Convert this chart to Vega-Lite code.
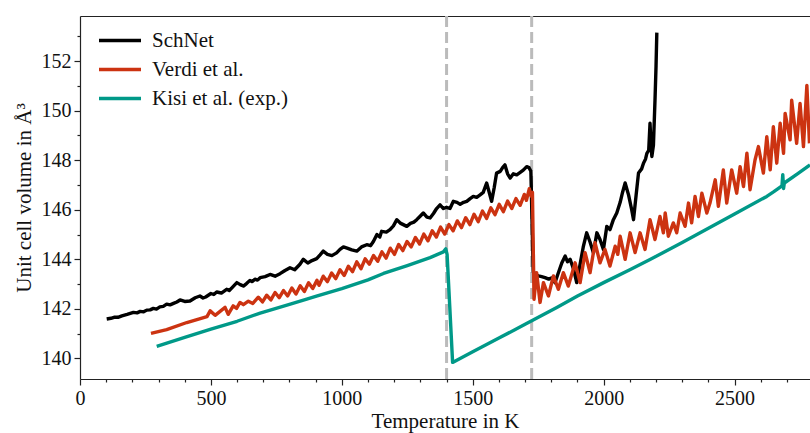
{
  "$schema": "https://vega.github.io/schema/vega-lite/v6.json",
  "width": 730,
  "height": 363,
  "autosize": {"type": "none"},
  "padding": {"left": 80, "top": 16, "right": 0, "bottom": 54},
  "background": "white",
  "config": {
    "view": {"stroke": null},
    "font": "Liberation Serif",
    "axis": {
      "grid": false,
      "domainColor": "#222222",
      "domainWidth": 1.2,
      "tickColor": "#222222",
      "tickWidth": 1.2,
      "labelColor": "#111111",
      "titleColor": "#111111",
      "labelFont": "Liberation Serif",
      "titleFont": "Liberation Serif",
      "labelFontSize": 20,
      "titleFontSize": 21,
      "titleFontWeight": "normal",
      "labelOverlap": false,
      "labelFlush": false
    }
  },
  "datasets": {
    "transitions": [{"T": 1400}, {"T": 1725}],
    "volumes": [
      {"series": "SchNet", "T": 102, "V": 141.59},
      {"series": "SchNet", "T": 118, "V": 141.62},
      {"series": "SchNet", "T": 130, "V": 141.66},
      {"series": "SchNet", "T": 145, "V": 141.66},
      {"series": "SchNet", "T": 160, "V": 141.72},
      {"series": "SchNet", "T": 180, "V": 141.78},
      {"series": "SchNet", "T": 204, "V": 141.86},
      {"series": "SchNet", "T": 218, "V": 141.84},
      {"series": "SchNet", "T": 230, "V": 141.9},
      {"series": "SchNet", "T": 243, "V": 141.88},
      {"series": "SchNet", "T": 255, "V": 141.95},
      {"series": "SchNet", "T": 268, "V": 141.96},
      {"series": "SchNet", "T": 280, "V": 142.02},
      {"series": "SchNet", "T": 292, "V": 141.99},
      {"series": "SchNet", "T": 305, "V": 142.08},
      {"series": "SchNet", "T": 318, "V": 142.1},
      {"series": "SchNet", "T": 331, "V": 142.19},
      {"series": "SchNet", "T": 344, "V": 142.16},
      {"series": "SchNet", "T": 357, "V": 142.22},
      {"series": "SchNet", "T": 370, "V": 142.28},
      {"series": "SchNet", "T": 382, "V": 142.36},
      {"series": "SchNet", "T": 400, "V": 142.3},
      {"series": "SchNet", "T": 420, "V": 142.32},
      {"series": "SchNet", "T": 440, "V": 142.45},
      {"series": "SchNet", "T": 458, "V": 142.52},
      {"series": "SchNet", "T": 470, "V": 142.44},
      {"series": "SchNet", "T": 480, "V": 142.48},
      {"series": "SchNet", "T": 500, "V": 142.62},
      {"series": "SchNet", "T": 511, "V": 142.58},
      {"series": "SchNet", "T": 522, "V": 142.68},
      {"series": "SchNet", "T": 540, "V": 142.64},
      {"series": "SchNet", "T": 560, "V": 142.79},
      {"series": "SchNet", "T": 570, "V": 142.74},
      {"series": "SchNet", "T": 580, "V": 142.85},
      {"series": "SchNet", "T": 599, "V": 143.06},
      {"series": "SchNet", "T": 612, "V": 142.98},
      {"series": "SchNet", "T": 624, "V": 142.92},
      {"series": "SchNet", "T": 636, "V": 143.02},
      {"series": "SchNet", "T": 649, "V": 143.15},
      {"series": "SchNet", "T": 658, "V": 143.1},
      {"series": "SchNet", "T": 668, "V": 143.2},
      {"series": "SchNet", "T": 678, "V": 143.16},
      {"series": "SchNet", "T": 688, "V": 143.26},
      {"series": "SchNet", "T": 707, "V": 143.3},
      {"series": "SchNet", "T": 726, "V": 143.39},
      {"series": "SchNet", "T": 745, "V": 143.32},
      {"series": "SchNet", "T": 764, "V": 143.42},
      {"series": "SchNet", "T": 783, "V": 143.55},
      {"series": "SchNet", "T": 802, "V": 143.66},
      {"series": "SchNet", "T": 820, "V": 143.58},
      {"series": "SchNet", "T": 840, "V": 143.8},
      {"series": "SchNet", "T": 853, "V": 144.0},
      {"series": "SchNet", "T": 870, "V": 143.85},
      {"series": "SchNet", "T": 886, "V": 143.95},
      {"series": "SchNet", "T": 904, "V": 144.03},
      {"series": "SchNet", "T": 917, "V": 144.18},
      {"series": "SchNet", "T": 929, "V": 144.33},
      {"series": "SchNet", "T": 945, "V": 144.2},
      {"series": "SchNet", "T": 962, "V": 144.15},
      {"series": "SchNet", "T": 980, "V": 144.26},
      {"series": "SchNet", "T": 993, "V": 144.4},
      {"series": "SchNet", "T": 1006, "V": 144.5},
      {"series": "SchNet", "T": 1020, "V": 144.45},
      {"series": "SchNet", "T": 1038, "V": 144.38},
      {"series": "SchNet", "T": 1057, "V": 144.33},
      {"series": "SchNet", "T": 1075, "V": 144.5},
      {"series": "SchNet", "T": 1095, "V": 144.59},
      {"series": "SchNet", "T": 1110, "V": 144.55},
      {"series": "SchNet", "T": 1121, "V": 144.73},
      {"series": "SchNet", "T": 1134, "V": 145.0},
      {"series": "SchNet", "T": 1145, "V": 144.9},
      {"series": "SchNet", "T": 1152, "V": 145.13},
      {"series": "SchNet", "T": 1170, "V": 145.1},
      {"series": "SchNet", "T": 1184, "V": 145.2},
      {"series": "SchNet", "T": 1197, "V": 145.35},
      {"series": "SchNet", "T": 1210, "V": 145.6},
      {"series": "SchNet", "T": 1225, "V": 145.45},
      {"series": "SchNet", "T": 1248, "V": 145.33},
      {"series": "SchNet", "T": 1262, "V": 145.45},
      {"series": "SchNet", "T": 1275, "V": 145.5},
      {"series": "SchNet", "T": 1286, "V": 145.6},
      {"series": "SchNet", "T": 1300, "V": 145.75},
      {"series": "SchNet", "T": 1311, "V": 145.87},
      {"series": "SchNet", "T": 1325, "V": 145.7},
      {"series": "SchNet", "T": 1337, "V": 145.67},
      {"series": "SchNet", "T": 1350, "V": 145.85},
      {"series": "SchNet", "T": 1362, "V": 146.05},
      {"series": "SchNet", "T": 1375, "V": 146.2},
      {"series": "SchNet", "T": 1388, "V": 146.05},
      {"series": "SchNet", "T": 1400, "V": 146.1},
      {"series": "SchNet", "T": 1413, "V": 146.05},
      {"series": "SchNet", "T": 1426, "V": 146.34},
      {"series": "SchNet", "T": 1440, "V": 146.3},
      {"series": "SchNet", "T": 1452, "V": 146.22},
      {"series": "SchNet", "T": 1465, "V": 146.3},
      {"series": "SchNet", "T": 1477, "V": 146.34},
      {"series": "SchNet", "T": 1490, "V": 146.45},
      {"series": "SchNet", "T": 1502, "V": 146.54},
      {"series": "SchNet", "T": 1515, "V": 146.5},
      {"series": "SchNet", "T": 1528, "V": 146.6},
      {"series": "SchNet", "T": 1540, "V": 146.7},
      {"series": "SchNet", "T": 1553, "V": 147.08},
      {"series": "SchNet", "T": 1563, "V": 146.7},
      {"series": "SchNet", "T": 1572, "V": 146.34},
      {"series": "SchNet", "T": 1582, "V": 146.9},
      {"series": "SchNet", "T": 1591, "V": 147.48},
      {"series": "SchNet", "T": 1605, "V": 147.55},
      {"series": "SchNet", "T": 1614, "V": 147.7},
      {"series": "SchNet", "T": 1623, "V": 147.81},
      {"series": "SchNet", "T": 1633, "V": 147.45},
      {"series": "SchNet", "T": 1643, "V": 147.28},
      {"series": "SchNet", "T": 1655, "V": 147.45},
      {"series": "SchNet", "T": 1668, "V": 147.41},
      {"series": "SchNet", "T": 1680, "V": 147.5},
      {"series": "SchNet", "T": 1693, "V": 147.6},
      {"series": "SchNet", "T": 1706, "V": 147.74},
      {"series": "SchNet", "T": 1715, "V": 147.7},
      {"series": "SchNet", "T": 1722, "V": 147.55},
      {"series": "SchNet", "T": 1731, "V": 143.5},
      {"series": "SchNet", "T": 1740, "V": 143.4},
      {"series": "SchNet", "T": 1751, "V": 143.33},
      {"series": "SchNet", "T": 1763, "V": 143.3},
      {"series": "SchNet", "T": 1776, "V": 143.26},
      {"series": "SchNet", "T": 1790, "V": 143.2},
      {"series": "SchNet", "T": 1802, "V": 143.25},
      {"series": "SchNet", "T": 1814, "V": 143.06},
      {"series": "SchNet", "T": 1827, "V": 143.46},
      {"series": "SchNet", "T": 1840, "V": 143.85},
      {"series": "SchNet", "T": 1853, "V": 144.13},
      {"series": "SchNet", "T": 1862, "V": 143.9},
      {"series": "SchNet", "T": 1872, "V": 144.0},
      {"series": "SchNet", "T": 1885, "V": 143.6},
      {"series": "SchNet", "T": 1897, "V": 143.06},
      {"series": "SchNet", "T": 1910, "V": 143.8},
      {"series": "SchNet", "T": 1922, "V": 144.5},
      {"series": "SchNet", "T": 1935, "V": 145.07},
      {"series": "SchNet", "T": 1948, "V": 144.7},
      {"series": "SchNet", "T": 1961, "V": 144.26},
      {"series": "SchNet", "T": 1974, "V": 145.07},
      {"series": "SchNet", "T": 1986, "V": 144.8},
      {"series": "SchNet", "T": 1999, "V": 144.4},
      {"series": "SchNet", "T": 2012, "V": 145.33},
      {"series": "SchNet", "T": 2024, "V": 145.2},
      {"series": "SchNet", "T": 2037, "V": 145.6},
      {"series": "SchNet", "T": 2050, "V": 145.87},
      {"series": "SchNet", "T": 2063, "V": 146.3},
      {"series": "SchNet", "T": 2072, "V": 146.7},
      {"series": "SchNet", "T": 2082, "V": 147.08},
      {"series": "SchNet", "T": 2095, "V": 146.6},
      {"series": "SchNet", "T": 2107, "V": 146.0},
      {"series": "SchNet", "T": 2114, "V": 145.6},
      {"series": "SchNet", "T": 2124, "V": 146.6},
      {"series": "SchNet", "T": 2133, "V": 147.48},
      {"series": "SchNet", "T": 2145, "V": 147.65},
      {"series": "SchNet", "T": 2152, "V": 147.88},
      {"series": "SchNet", "T": 2160, "V": 148.05},
      {"series": "SchNet", "T": 2165, "V": 148.28},
      {"series": "SchNet", "T": 2172, "V": 148.4},
      {"series": "SchNet", "T": 2177, "V": 149.49},
      {"series": "SchNet", "T": 2181, "V": 148.6},
      {"series": "SchNet", "T": 2184, "V": 148.15},
      {"series": "SchNet", "T": 2190, "V": 148.6},
      {"series": "SchNet", "T": 2196, "V": 150.42},
      {"series": "SchNet", "T": 2200, "V": 151.8},
      {"series": "SchNet", "T": 2203, "V": 153.15},

      {"series": "Verdi et al.", "T": 271, "V": 141.01},
      {"series": "Verdi et al.", "T": 331, "V": 141.16},
      {"series": "Verdi et al.", "T": 408, "V": 141.45},
      {"series": "Verdi et al.", "T": 485, "V": 141.69},
      {"series": "Verdi et al.", "T": 497, "V": 141.92},
      {"series": "Verdi et al.", "T": 516, "V": 141.74},
      {"series": "Verdi et al.", "T": 535, "V": 141.9},
      {"series": "Verdi et al.", "T": 554, "V": 142.06},
      {"series": "Verdi et al.", "T": 566, "V": 141.78},
      {"series": "Verdi et al.", "T": 585, "V": 142.12},
      {"series": "Verdi et al.", "T": 598, "V": 142.02},
      {"series": "Verdi et al.", "T": 611, "V": 142.26},
      {"series": "Verdi et al.", "T": 624, "V": 142.17},
      {"series": "Verdi et al.", "T": 643, "V": 142.31},
      {"series": "Verdi et al.", "T": 660, "V": 142.22},
      {"series": "Verdi et al.", "T": 681, "V": 142.47},
      {"series": "Verdi et al.", "T": 697, "V": 142.28},
      {"series": "Verdi et al.", "T": 713, "V": 142.55},
      {"series": "Verdi et al.", "T": 729, "V": 142.36},
      {"series": "Verdi et al.", "T": 745, "V": 142.66},
      {"series": "Verdi et al.", "T": 761, "V": 142.45},
      {"series": "Verdi et al.", "T": 777, "V": 142.74},
      {"series": "Verdi et al.", "T": 793, "V": 142.52},
      {"series": "Verdi et al.", "T": 809, "V": 142.84},
      {"series": "Verdi et al.", "T": 825, "V": 142.6},
      {"series": "Verdi et al.", "T": 841, "V": 142.93},
      {"series": "Verdi et al.", "T": 857, "V": 142.7},
      {"series": "Verdi et al.", "T": 873, "V": 143.05},
      {"series": "Verdi et al.", "T": 889, "V": 142.82},
      {"series": "Verdi et al.", "T": 905, "V": 143.15},
      {"series": "Verdi et al.", "T": 913, "V": 142.95},
      {"series": "Verdi et al.", "T": 929, "V": 143.32},
      {"series": "Verdi et al.", "T": 945, "V": 143.1},
      {"series": "Verdi et al.", "T": 961, "V": 143.45},
      {"series": "Verdi et al.", "T": 977, "V": 143.22},
      {"series": "Verdi et al.", "T": 993, "V": 143.58},
      {"series": "Verdi et al.", "T": 1009, "V": 143.35},
      {"series": "Verdi et al.", "T": 1025, "V": 143.72},
      {"series": "Verdi et al.", "T": 1041, "V": 143.5},
      {"series": "Verdi et al.", "T": 1057, "V": 143.9},
      {"series": "Verdi et al.", "T": 1073, "V": 143.62},
      {"series": "Verdi et al.", "T": 1089, "V": 144.02},
      {"series": "Verdi et al.", "T": 1105, "V": 143.8},
      {"series": "Verdi et al.", "T": 1121, "V": 144.15},
      {"series": "Verdi et al.", "T": 1137, "V": 143.92},
      {"series": "Verdi et al.", "T": 1153, "V": 144.3},
      {"series": "Verdi et al.", "T": 1169, "V": 144.05},
      {"series": "Verdi et al.", "T": 1185, "V": 144.45},
      {"series": "Verdi et al.", "T": 1201, "V": 144.2},
      {"series": "Verdi et al.", "T": 1217, "V": 144.6},
      {"series": "Verdi et al.", "T": 1233, "V": 144.35},
      {"series": "Verdi et al.", "T": 1249, "V": 144.72},
      {"series": "Verdi et al.", "T": 1265, "V": 144.5},
      {"series": "Verdi et al.", "T": 1281, "V": 144.88},
      {"series": "Verdi et al.", "T": 1297, "V": 144.62},
      {"series": "Verdi et al.", "T": 1313, "V": 145.02},
      {"series": "Verdi et al.", "T": 1329, "V": 144.75},
      {"series": "Verdi et al.", "T": 1345, "V": 145.15},
      {"series": "Verdi et al.", "T": 1361, "V": 144.9},
      {"series": "Verdi et al.", "T": 1377, "V": 145.3},
      {"series": "Verdi et al.", "T": 1393, "V": 145.02},
      {"series": "Verdi et al.", "T": 1409, "V": 145.4},
      {"series": "Verdi et al.", "T": 1425, "V": 145.15},
      {"series": "Verdi et al.", "T": 1441, "V": 145.55},
      {"series": "Verdi et al.", "T": 1457, "V": 145.28},
      {"series": "Verdi et al.", "T": 1473, "V": 145.68},
      {"series": "Verdi et al.", "T": 1489, "V": 145.4},
      {"series": "Verdi et al.", "T": 1505, "V": 145.82},
      {"series": "Verdi et al.", "T": 1521, "V": 145.52},
      {"series": "Verdi et al.", "T": 1537, "V": 145.95},
      {"series": "Verdi et al.", "T": 1553, "V": 145.65},
      {"series": "Verdi et al.", "T": 1569, "V": 146.08},
      {"series": "Verdi et al.", "T": 1585, "V": 145.8},
      {"series": "Verdi et al.", "T": 1601, "V": 146.22},
      {"series": "Verdi et al.", "T": 1617, "V": 145.92},
      {"series": "Verdi et al.", "T": 1633, "V": 146.35},
      {"series": "Verdi et al.", "T": 1649, "V": 146.05},
      {"series": "Verdi et al.", "T": 1665, "V": 146.45},
      {"series": "Verdi et al.", "T": 1681, "V": 146.18},
      {"series": "Verdi et al.", "T": 1697, "V": 146.62},
      {"series": "Verdi et al.", "T": 1705, "V": 146.38},
      {"series": "Verdi et al.", "T": 1716, "V": 146.85},
      {"series": "Verdi et al.", "T": 1723, "V": 146.55},
      {"series": "Verdi et al.", "T": 1728, "V": 146.7},
      {"series": "Verdi et al.", "T": 1734, "V": 142.39},
      {"series": "Verdi et al.", "T": 1744, "V": 143.46},
      {"series": "Verdi et al.", "T": 1757, "V": 142.26},
      {"series": "Verdi et al.", "T": 1770, "V": 143.06},
      {"series": "Verdi et al.", "T": 1789, "V": 142.52},
      {"series": "Verdi et al.", "T": 1808, "V": 143.33},
      {"series": "Verdi et al.", "T": 1827, "V": 142.79},
      {"series": "Verdi et al.", "T": 1846, "V": 143.46},
      {"series": "Verdi et al.", "T": 1865, "V": 142.92},
      {"series": "Verdi et al.", "T": 1891, "V": 143.86},
      {"series": "Verdi et al.", "T": 1910, "V": 143.06},
      {"series": "Verdi et al.", "T": 1929, "V": 144.27},
      {"series": "Verdi et al.", "T": 1948, "V": 143.46},
      {"series": "Verdi et al.", "T": 1967, "V": 144.67},
      {"series": "Verdi et al.", "T": 1986, "V": 143.86},
      {"series": "Verdi et al.", "T": 2005, "V": 144.4},
      {"series": "Verdi et al.", "T": 2024, "V": 143.73},
      {"series": "Verdi et al.", "T": 2044, "V": 144.53},
      {"series": "Verdi et al.", "T": 2054, "V": 144.2},
      {"series": "Verdi et al.", "T": 2063, "V": 144.93},
      {"series": "Verdi et al.", "T": 2082, "V": 144.0},
      {"series": "Verdi et al.", "T": 2101, "V": 145.07},
      {"series": "Verdi et al.", "T": 2120, "V": 144.27},
      {"series": "Verdi et al.", "T": 2139, "V": 145.07},
      {"series": "Verdi et al.", "T": 2158, "V": 144.4},
      {"series": "Verdi et al.", "T": 2177, "V": 145.6},
      {"series": "Verdi et al.", "T": 2196, "V": 144.8},
      {"series": "Verdi et al.", "T": 2215, "V": 145.73},
      {"series": "Verdi et al.", "T": 2228, "V": 145.07},
      {"series": "Verdi et al.", "T": 2235, "V": 145.87},
      {"series": "Verdi et al.", "T": 2247, "V": 144.93},
      {"series": "Verdi et al.", "T": 2266, "V": 145.47},
      {"series": "Verdi et al.", "T": 2279, "V": 145.07},
      {"series": "Verdi et al.", "T": 2292, "V": 145.87},
      {"series": "Verdi et al.", "T": 2311, "V": 145.33},
      {"series": "Verdi et al.", "T": 2324, "V": 146.27},
      {"series": "Verdi et al.", "T": 2336, "V": 145.47},
      {"series": "Verdi et al.", "T": 2349, "V": 146.54},
      {"series": "Verdi et al.", "T": 2362, "V": 145.73},
      {"series": "Verdi et al.", "T": 2375, "V": 146.67},
      {"series": "Verdi et al.", "T": 2394, "V": 145.87},
      {"series": "Verdi et al.", "T": 2406, "V": 146.27},
      {"series": "Verdi et al.", "T": 2426, "V": 147.21},
      {"series": "Verdi et al.", "T": 2438, "V": 146.14},
      {"series": "Verdi et al.", "T": 2457, "V": 147.61},
      {"series": "Verdi et al.", "T": 2470, "V": 146.27},
      {"series": "Verdi et al.", "T": 2489, "V": 147.61},
      {"series": "Verdi et al.", "T": 2508, "V": 146.67},
      {"series": "Verdi et al.", "T": 2521, "V": 147.74},
      {"series": "Verdi et al.", "T": 2534, "V": 146.94},
      {"series": "Verdi et al.", "T": 2547, "V": 148.28},
      {"series": "Verdi et al.", "T": 2559, "V": 146.81},
      {"series": "Verdi et al.", "T": 2578, "V": 148.01},
      {"series": "Verdi et al.", "T": 2591, "V": 148.55},
      {"series": "Verdi et al.", "T": 2610, "V": 147.48},
      {"series": "Verdi et al.", "T": 2623, "V": 148.95},
      {"series": "Verdi et al.", "T": 2636, "V": 147.61},
      {"series": "Verdi et al.", "T": 2648, "V": 149.35},
      {"series": "Verdi et al.", "T": 2661, "V": 147.88},
      {"series": "Verdi et al.", "T": 2674, "V": 149.49},
      {"series": "Verdi et al.", "T": 2687, "V": 148.28},
      {"series": "Verdi et al.", "T": 2693, "V": 149.89},
      {"series": "Verdi et al.", "T": 2712, "V": 148.82},
      {"series": "Verdi et al.", "T": 2718, "V": 150.42},
      {"series": "Verdi et al.", "T": 2737, "V": 148.68},
      {"series": "Verdi et al.", "T": 2750, "V": 150.29},
      {"series": "Verdi et al.", "T": 2763, "V": 148.55},
      {"series": "Verdi et al.", "T": 2776, "V": 151.02},
      {"series": "Verdi et al.", "T": 2786, "V": 148.68},

      {"series": "Kisi et al. (exp.)", "T": 293, "V": 140.49},
      {"series": "Kisi et al. (exp.)", "T": 400, "V": 140.85},
      {"series": "Kisi et al. (exp.)", "T": 500, "V": 141.18},
      {"series": "Kisi et al. (exp.)", "T": 600, "V": 141.5},
      {"series": "Kisi et al. (exp.)", "T": 688, "V": 141.83},
      {"series": "Kisi et al. (exp.)", "T": 800, "V": 142.18},
      {"series": "Kisi et al. (exp.)", "T": 866, "V": 142.39},
      {"series": "Kisi et al. (exp.)", "T": 900, "V": 142.5},
      {"series": "Kisi et al. (exp.)", "T": 1000, "V": 142.82},
      {"series": "Kisi et al. (exp.)", "T": 1100, "V": 143.17},
      {"series": "Kisi et al. (exp.)", "T": 1159, "V": 143.43},
      {"series": "Kisi et al. (exp.)", "T": 1250, "V": 143.75},
      {"series": "Kisi et al. (exp.)", "T": 1337, "V": 144.07},
      {"series": "Kisi et al. (exp.)", "T": 1388, "V": 144.3},
      {"series": "Kisi et al. (exp.)", "T": 1397, "V": 144.42},
      {"series": "Kisi et al. (exp.)", "T": 1402, "V": 144.2},
      {"series": "Kisi et al. (exp.)", "T": 1423, "V": 139.84},
      {"series": "Kisi et al. (exp.)", "T": 1500, "V": 140.27},
      {"series": "Kisi et al. (exp.)", "T": 1600, "V": 140.82},
      {"series": "Kisi et al. (exp.)", "T": 1700, "V": 141.38},
      {"series": "Kisi et al. (exp.)", "T": 1821, "V": 142.06},
      {"series": "Kisi et al. (exp.)", "T": 1900, "V": 142.52},
      {"series": "Kisi et al. (exp.)", "T": 2000, "V": 143.06},
      {"series": "Kisi et al. (exp.)", "T": 2100, "V": 143.58},
      {"series": "Kisi et al. (exp.)", "T": 2177, "V": 143.99},
      {"series": "Kisi et al. (exp.)", "T": 2300, "V": 144.68},
      {"series": "Kisi et al. (exp.)", "T": 2400, "V": 145.25},
      {"series": "Kisi et al. (exp.)", "T": 2500, "V": 145.83},
      {"series": "Kisi et al. (exp.)", "T": 2623, "V": 146.54},
      {"series": "Kisi et al. (exp.)", "T": 2650, "V": 146.73},
      {"series": "Kisi et al. (exp.)", "T": 2681, "V": 146.96},
      {"series": "Kisi et al. (exp.)", "T": 2684, "V": 147.42},
      {"series": "Kisi et al. (exp.)", "T": 2687, "V": 146.86},
      {"series": "Kisi et al. (exp.)", "T": 2690, "V": 147.08},
      {"series": "Kisi et al. (exp.)", "T": 2740, "V": 147.45},
      {"series": "Kisi et al. (exp.)", "T": 2788, "V": 147.81}
    ]
  },
  "layer": [
    {
      "data": {"name": "transitions"},
      "mark": {"type": "rule", "color": "#bbbbbb", "strokeWidth": 3, "strokeDash": [11, 5]},
      "encoding": {
        "x": {
          "field": "T",
          "type": "quantitative",
          "scale": {"domain": [0, 2788], "nice": false, "zero": false},
          "axis": {
            "title": "Temperature in K",
            "values": [0, 100, 200, 300, 400, 500, 600, 700, 800, 900, 1000, 1100, 1200, 1300, 1400, 1500, 1600, 1700, 1800, 1900, 2000, 2100, 2200, 2300, 2400, 2500, 2600, 2700],
            "format": "d",
            "labelExpr": "datum.value % 500 === 0 ? datum.label : ''",
            "tickSize": {"expr": "datum.value % 500 === 0 ? 6 : 3"},
            "labelPadding": 3,
            "titlePadding": 2
          }
        }
      }
    },
    {
      "data": {"name": "volumes"},
      "mark": {"type": "line", "strokeWidth": 3.4, "strokeJoin": "round", "strokeCap": "butt"},
      "encoding": {
        "x": {
          "field": "T",
          "type": "quantitative",
          "scale": {"domain": [0, 2788], "nice": false, "zero": false},
          "axis": {"orient": "top", "labels": false, "ticks": false, "title": null}
        },
        "y": {
          "field": "V",
          "type": "quantitative",
          "scale": {"domain": [139.17, 153.82], "nice": false, "zero": false},
          "axis": {
            "title": "Unit cell volume in Å³",
            "values": [140, 141, 142, 143, 144, 145, 146, 147, 148, 149, 150, 151, 152, 153],
            "labelExpr": "datum.value % 2 === 0 ? datum.label : ''",
            "tickSize": {"expr": "datum.value % 2 === 0 ? 6 : 3"},
            "labelPadding": 3,
            "titlePadding": 7
          }
        },
        "color": {
          "field": "series",
          "type": "nominal",
          "scale": {
            "domain": ["SchNet", "Verdi et al.", "Kisi et al. (exp.)"],
            "range": ["#000000", "#cc3311", "#009988"]
          },
          "legend": {
            "title": null,
            "orient": "none",
            "legendX": 17,
            "legendY": 10,
            "padding": 0,
            "symbolType": "stroke",
            "symbolSize": 1764,
            "symbolStrokeWidth": 3.5,
            "clipHeight": 29,
            "labelFont": "Liberation Serif",
            "labelFontSize": 21,
            "labelColor": "#111111",
            "labelOffset": 9,
            "labelLimit": 300,
            "rowPadding": 0
          }
        }
      }
    }
  ],
  "resolve": {"axis": {"x": "independent"}}
}
